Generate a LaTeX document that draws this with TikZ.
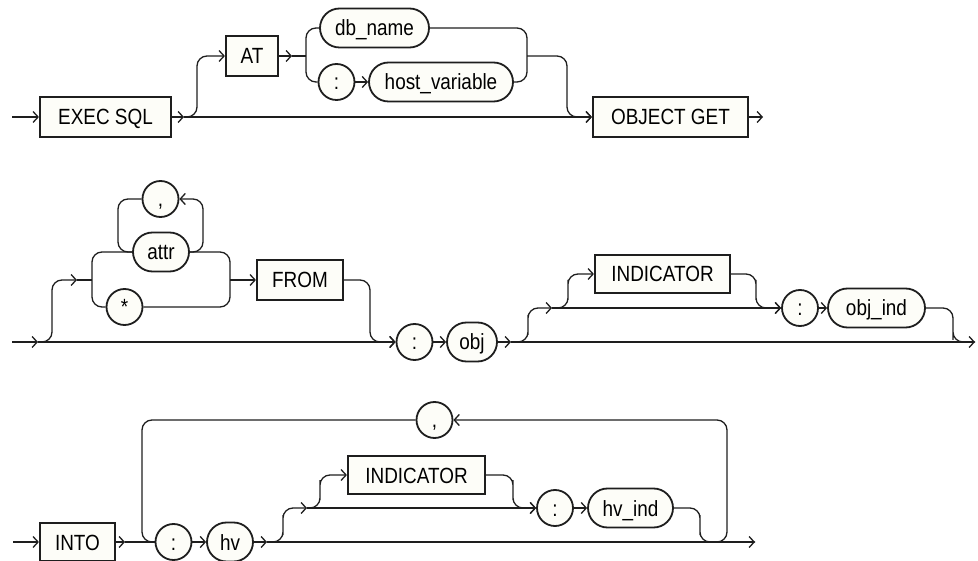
\documentclass[tikz,border=0pt]{standalone}
\usepackage{fontspec}
\newfontfamily\rrfont{Liberation Sans}[FakeStretch=0.86]
\usetikzlibrary{positioning, arrows.meta}
\definecolor{boxfill}{RGB}{253,253,248}
\definecolor{inkgray}{RGB}{30,30,30}
\tikzset{
MyBoxStyle/.style  ={draw=inkgray, rectangle, fill=boxfill,
                     line width=2.2pt, inner sep=0pt,
                     minimum height=40pt,
                     text height=16pt, text depth=0pt,
                     font=\rrfont\fontsize{22}{24}\selectfont},
MyOvalStyle/.style ={draw=inkgray, rectangle, rounded corners=19.5pt, fill=boxfill,
                     line width=1.8pt, inner sep=0pt,
                     minimum height=39pt,
                     text height=16pt, text depth=0pt,
                     font=\rrfont\fontsize{22}{24}\selectfont},
MyDotStyle/.style  ={draw=inkgray, circle, fill=boxfill,
                     line width=1.8pt, inner sep=0pt,
                     minimum size=36pt,
                     text height=16pt, text depth=0pt,
                     font=\rrfont\fontsize{22}{24}\selectfont},
MyEdgeStyle/.style ={draw=inkgray, line width=1.3pt, rounded corners=10pt},
}

\begin{document}
\begin{tikzpicture}[x=1pt, y=-1pt, >={Straight Barb[length=5pt,width=11pt]}]
\useasboundingbox (0,0) rectangle (978,561);

\begin{scope}  % 画框 第一行
\node[MyBoxStyle, minimum width=131pt] (execsql) at (105.5,117) {EXEC SQL};
\node[MyBoxStyle, minimum width=52pt]  (atkw)    at (252,56)    {AT};
\node[MyOvalStyle, minimum width=109pt] (dbname) at (374.5,28)  {db\_name};
\node[MyDotStyle]                       (colA)   at (336.5,82)  {:};
\node[MyOvalStyle, minimum width=144pt] (hostvar) at (441,82)   {host\_variable};
\node[MyBoxStyle, minimum width=155pt] (objget)  at (670.5,117) {OBJECT GET};
\coordinate (s1) at (12,117);  \coordinate (j1a) at (184,117);
\coordinate (j1b) at (292,56); \coordinate (f1) at (306,56);
\coordinate (g1) at (527,56);  \coordinate (e1) at (763,117);
\end{scope}

\begin{scope}[MyEdgeStyle]  % 画线 第一行
\draw[->] (s1) -- (execsql.west);
\draw[->] (execsql.east) -- (j1a);
\draw[->] (j1a) -- (objget.west);
\draw[->] (j1a) -| (197,90) |- (atkw.west);
\draw[->] (atkw.east) -- (j1b);
\draw (j1b) -- (f1);
\draw (dbname.west) -| (f1) |- (colA.west);
\draw[->] (colA.east) -- (hostvar.west);
\draw (dbname.east) -| (g1) |- (hostvar.east);
\draw[->] (g1) -| (567,90) |- (objget.west);
\draw[->] (objget.east) -- (e1);
\end{scope}

\begin{scope}  % 画框 第二行
\node[MyDotStyle]                       (comma1) at (160.5,199) {,};
\node[MyOvalStyle, minimum width=56pt]  (attr)   at (161,252)   {attr};
\node[MyDotStyle]                       (star)   at (124.5,307) {*};
\node[MyBoxStyle, minimum width=86pt]   (fromkw) at (300,280)   {FROM};
\node[MyDotStyle]                       (colB)   at (414.5,342) {:};
\node[MyOvalStyle, minimum width=50pt]  (obj)    at (472,342)   {obj};
\node[MyBoxStyle, minimum width=135pt, minimum height=38pt] (ind1) at (662.5,274) {INDICATOR};
\node[MyDotStyle]                       (colC)   at (800,308)   {:};
\node[MyOvalStyle, minimum width=97pt]  (objind) at (876.5,308) {obj\_ind};
\coordinate (s2) at (12,342);  \coordinate (j2a) at (38,342);
\coordinate (j2b) at (77,280); \coordinate (f2) at (92,280);
\coordinate (g2) at (230,280); \coordinate (j2c) at (511,342);
\coordinate (j2d) at (552,308); \coordinate (e2) at (975,342);
\end{scope}

\begin{scope}[MyEdgeStyle]  % 画线 第二行
\draw[->] (s2) -- (j2a);
\draw[->] (j2a) -- (colB.west);
\draw[->] (j2a) -| (52,300) |- (j2b);
\draw (j2b) -- (f2);
\draw (attr.west) -| (f2) |- (star.west);
\draw (comma1.west) -| (118,230) |- (attr.west);
\draw[->] (attr.east) -| (203,230) |- (comma1.east);
\draw (attr.east) -| (g2) |- (star.east);
\draw[->] (g2) -- (fromkw.west);
\draw[->] (fromkw.east) -| (370,320) |- (colB.west);
\draw[->] (colB.east) -- (obj.west);
\draw[->] (obj.east) -- (j2c);
\draw[->] (j2c) -- (e2);
\draw[->] (j2c) -| (528,325) |- (j2d);
\draw[->] (j2d) -- (colC.west);
\draw[->] (j2d) -| (568,290) |- (ind1.west);
\draw[->] (ind1.east) -| (756,290) |- (colC.west);
\draw[->] (colC.east) -- (objind.west);
\draw (objind.east) -| (953,330) |- (e2);
\end{scope}

\begin{scope}  % 画框 第三行
\node[MyBoxStyle, minimum width=75pt, minimum height=38pt] (into) at (77.5,542) {INTO};
\node[MyDotStyle]                       (colD)   at (173.5,542) {:};
\node[MyOvalStyle, minimum width=46pt]  (hv)     at (230,542)   {hv};
\node[MyDotStyle]                       (comma2) at (434.5,420) {,};
\node[MyBoxStyle, minimum width=137pt, minimum height=38pt] (ind2) at (416.5,475) {INDICATOR};
\node[MyDotStyle]                       (colE)   at (555,508)   {:};
\node[MyOvalStyle, minimum width=85pt]  (hvind)  at (630.5,508) {hv\_ind};
\coordinate (s3) at (13,542);   \coordinate (j3a) at (125,542);
\coordinate (j3b) at (267,542); \coordinate (j3c) at (307,508);
\coordinate (g3) at (712,542);  \coordinate (e3) at (755,542);
\end{scope}

\begin{scope}[MyEdgeStyle]  % 画线 第三行
\draw[->] (s3) -- (into.west);
\draw[->] (into.east) -- (j3a);
\draw (j3a) -- (colD.west);
\draw (comma2.west) -| (142,480) |- (colD.west);
\draw[->] (colD.east) -- (hv.west);
\draw[->] (hv.east) -- (j3b);
\draw[->] (j3b) -- (e3);
\draw[->] (j3b) -| (283,525) |- (j3c);
\draw[->] (j3c) -- (colE.west);
\draw[->] (j3c) -| (320,490) |- (ind2.west);
\draw[->] (ind2.east) -| (513,490) |- (colE.west);
\draw[->] (colE.east) -- (hvind.west);
\draw (hvind.east) -| (700,525) |- (e3);
\draw[->] (g3) -| (727,480) |- (comma2.east);
\end{scope}
\end{tikzpicture}
\end{document}
